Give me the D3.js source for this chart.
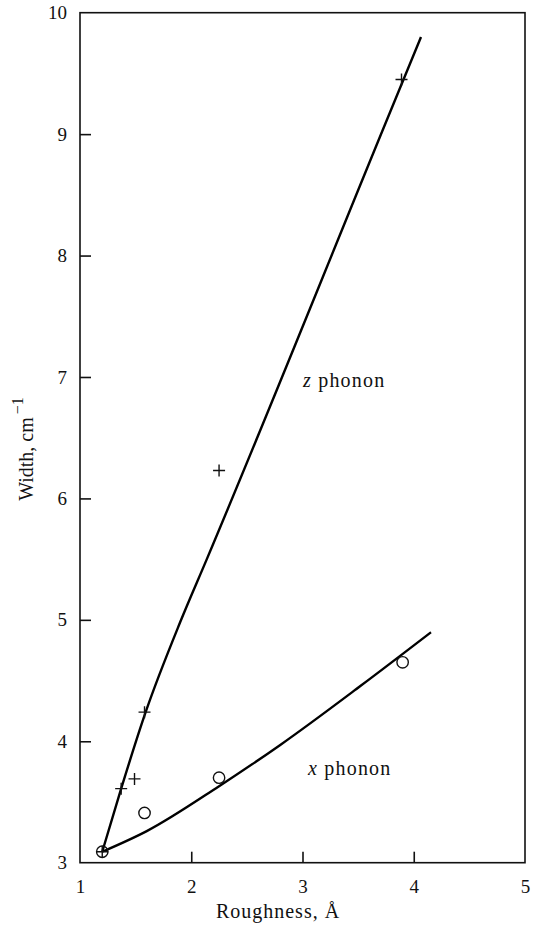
<!DOCTYPE html>
<html>
<head>
<meta charset="utf-8">
<script src="https://cdn.jsdelivr.net/npm/d3@7"></script>
<style>
  html, body { margin: 0; padding: 0; background: #fff; }
  svg { display: block; }
</style>
</head>
<body>
<svg id="chart" width="533" height="931"></svg>
<script>
// Measured widths of the z and x phonon lines vs. interface roughness
const xTicks = [1, 2, 3, 4, 5];
const yTicks = [3, 4, 5, 6, 7, 8, 9, 10];

// Measured points: z phonon (plus markers)
const zRoughness = [1.2, 1.37, 1.49, 1.58, 2.25, 3.89];
const zWidth     = [3.09, 3.61, 3.69, 4.24, 6.23, 9.45];

// Measured points: x phonon (open circles)
const xRoughness = [1.2, 1.58, 2.25, 3.90];
const xWidth     = [3.09, 3.41, 3.70, 4.65];

// Smooth guide curves through the data
const zCurveRoughness = [1.2, 1.37, 1.59, 1.90, 2.14, 3.76, 4.065];
const zCurveWidth     = [3.09, 3.61, 4.24, 4.98, 5.50, 9.12, 9.80];
const xCurveRoughness = [1.2, 1.6, 2.25, 2.80, 3.52, 4.155];
const xCurveWidth     = [3.09, 3.26, 3.63, 3.97, 4.455, 4.898];

const FONT = '"Liberation Serif", "Times New Roman", Times, serif';
const INK = "#111";

const svg = d3.select("#chart");
const plotLeft = 80, plotRight = 525, plotTop = 12.7, plotBottom = 862.7;

const x = d3.scaleLinear().domain([1, 5]).range([plotLeft, plotRight]);
const y = d3.scaleLinear().domain([3, 10]).range([plotBottom, plotTop]);

// Frame
svg.append("rect")
  .attr("x", plotLeft).attr("y", plotTop)
  .attr("width", plotRight - plotLeft).attr("height", plotBottom - plotTop)
  .attr("fill", "none").attr("stroke", INK).attr("stroke-width", 1.6);

// Bottom axis: inward ticks
const xAxis = svg.append("g").attr("transform", `translate(0,${plotBottom})`)
  .call(d3.axisBottom(x).tickValues(xTicks).tickSizeInner(-11).tickSizeOuter(0).tickPadding(17)
    .tickFormat(d3.format("d")));
xAxis.select(".domain").remove();
xAxis.selectAll(".tick line").attr("stroke", INK).attr("stroke-width", 1.6)
  .filter(d => d === 1 || d === 5).remove();
xAxis.selectAll(".tick text").style("font-family", FONT).style("font-size", "19px").attr("fill", INK);

// Left axis: inward ticks
const yAxis = svg.append("g").attr("transform", `translate(${plotLeft},0)`)
  .call(d3.axisLeft(y).tickValues(yTicks).tickSizeInner(-11).tickSizeOuter(0).tickPadding(13)
    .tickFormat(d3.format("d")));
yAxis.select(".domain").remove();
yAxis.selectAll(".tick line").attr("stroke", INK).attr("stroke-width", 1.6)
  .filter(d => d === 3 || d === 10).remove();
yAxis.selectAll(".tick text").style("font-family", FONT).style("font-size", "19px").attr("fill", INK);

// Axis titles
svg.append("text")
  .attr("x", 278).attr("y", 918)
  .attr("text-anchor", "middle")
  .style("font-family", FONT).style("font-size", "20px").style("letter-spacing", "1px")
  .attr("fill", INK)
  .text("Roughness, Å");

const yTitle = svg.append("text")
  .attr("transform", "translate(33,449) rotate(-90)")
  .attr("text-anchor", "middle")
  .style("font-family", FONT).style("font-size", "20px")
  .attr("fill", INK);
yTitle.append("tspan").text("Width, cm");
yTitle.append("tspan").attr("dx", 3).attr("dy", -10).style("font-size", "16px").text("−1");

// Curves
const line = d3.line().curve(d3.curveMonotoneX);
svg.append("path")
  .attr("d", line(zCurveRoughness.map((r, i) => [x(r), y(zCurveWidth[i])])))
  .attr("fill", "none").attr("stroke", "#000").attr("stroke-width", 2.4)
  .attr("stroke-linejoin", "round");
svg.append("path")
  .attr("d", line(xCurveRoughness.map((r, i) => [x(r), y(xCurveWidth[i])])))
  .attr("fill", "none").attr("stroke", "#000").attr("stroke-width", 2.4)
  .attr("stroke-linejoin", "round");

// Plus markers
const plusArm = 6;
svg.append("g").selectAll("path")
  .data(zRoughness.map((r, i) => [x(r), y(zWidth[i])]))
  .join("path")
  .attr("d", ([px, py]) => `M${px - plusArm},${py}H${px + plusArm}M${px},${py - plusArm}V${py + plusArm}`)
  .attr("stroke", INK).attr("stroke-width", 1.4).attr("fill", "none");

// Circle markers
svg.append("g").selectAll("circle")
  .data(xRoughness.map((r, i) => [x(r), y(xWidth[i])]))
  .join("circle")
  .attr("cx", d => d[0]).attr("cy", d => d[1]).attr("r", 5.7)
  .attr("fill", "none").attr("stroke", INK).attr("stroke-width", 1.4);

// Series labels
function seriesLabel(px, py, symbol) {
  const t = svg.append("text").attr("x", px).attr("y", py)
    .style("font-family", FONT).style("font-size", "20px").style("letter-spacing", "1.2px")
    .attr("fill", INK);
  t.append("tspan").style("font-style", "italic").text(symbol);
  t.append("tspan").text(" phonon");
}
seriesLabel(303, 387, "z");
seriesLabel(308, 775, "x");
</script>
</body>
</html>
